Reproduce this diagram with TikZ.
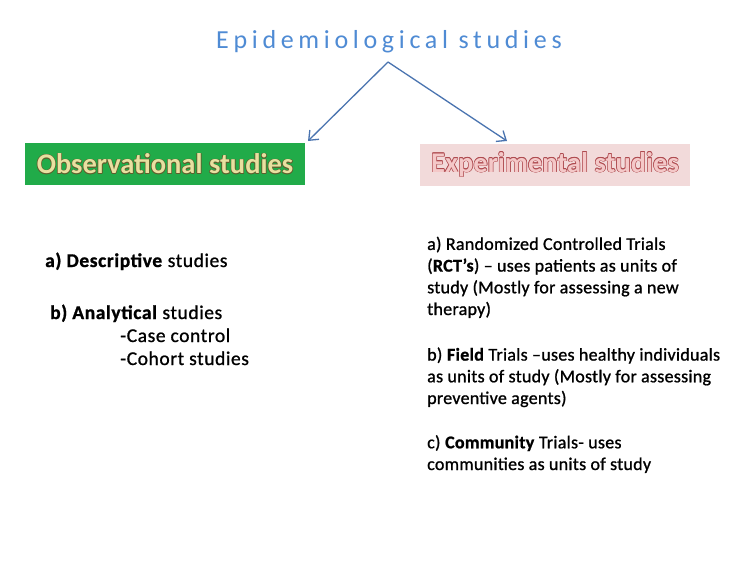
\documentclass[tikz,border=0pt]{standalone}
\usepackage{fontspec}
\setmainfont{Carlito}
\newfontfamily\spacedfont[LetterSpace=18]{Carlito}
\newfontfamily\leftfont[LetterSpace=3,FakeBold=1]{Carlito}
\newfontfamily\rightfont[LetterSpace=1.5,FakeBold=1]{Carlito}
\usetikzlibrary{arrows.meta}
\definecolor{titleblue}{RGB}{79,139,212}
\definecolor{arrowblue}{RGB}{74,116,176}
\definecolor{obsgreen}{RGB}{33,171,73}
\definecolor{obstext}{RGB}{232,224,160}
\definecolor{obsline}{RGB}{95,95,45}
\definecolor{exppink}{RGB}{242,218,218}
\definecolor{exptext}{RGB}{244,200,200}
\definecolor{expline}{RGB}{175,75,80}
% text drawn with a thin outline
\newcommand{\olcopy}[4]{\rlap{\kern#1\raisebox{#2}{\textcolor{#3}{#4}}}}
\newcommand{\outlined}[3]{\leavevmode
  \olcopy{0.6pt}{0pt}{#2}{#3}\olcopy{-0.6pt}{0pt}{#2}{#3}%
  \olcopy{0pt}{0.6pt}{#2}{#3}\olcopy{0pt}{-0.6pt}{#2}{#3}%
  \olcopy{0.45pt}{0.45pt}{#2}{#3}\olcopy{-0.45pt}{0.45pt}{#2}{#3}%
  \olcopy{0.45pt}{-0.45pt}{#2}{#3}\olcopy{-0.45pt}{-0.45pt}{#2}{#3}%
  \textcolor{#1}{#3}}
\begin{document}
\begin{tikzpicture}[x=1pt,y=-1pt]
    \useasboundingbox[fill=white] (0,0) rectangle (752,563);

    \tikzstyle{hnode} = [rectangle, inner sep = 0pt, minimum height = 42pt, font=\fontsize{28.5}{32}\selectfont\bfseries]
    \tikzstyle{lnode} = [inner sep = 0pt, anchor = base west, align = left, font=\fontsize{19.5}{23}\leftfont]
    \tikzstyle{rnode} = [inner sep = 0pt, anchor = base west, align = left, font=\fontsize{18}{21.7}\rightfont]
    \tikzstyle{harrow} = [draw=arrowblue, line width = 1.3pt, -{Straight Barb[length=8pt, width=13pt]}]

    \node[inner sep = 0pt, text=titleblue, font=\fontsize{26}{30}\spacedfont] (title) at (389,42) {Epidemiological studies};

    \node[hnode, fill=obsgreen, minimum width = 280pt] (obs) at (165,164) {\outlined{obstext}{obsline}{Observational studies}};
    \node[hnode, fill=exppink, minimum width = 270pt] (exp) at (555,164.5) {\outlined{exptext}{expline}{Experimental studies}};

    \coordinate (top) at (388,62);
    \coordinate (obsend) at (308,141);
    \coordinate (expend) at (507,141);
    \draw[harrow] (top) -- (obsend);
    \draw[harrow] (top) -- (expend);

    % left column (base = last line)
    \node[lnode] (desc) at (45,267) {\textbf{a) Descriptive} studies};
    \node[lnode] (anal) at (50,365) {\textbf{b) Analytical} studies\\
      \hspace*{70pt}-Case control\\
      \hspace*{70pt}-Cohort studies};

    % right column (base = last line)
    \node[rnode] (expa) at (427,315) {a) Randomized Controlled Trials\\
      (\textbf{RCT’s}) \textendash{} uses patients as units of\\
      study (Mostly for assessing a new\\
      therapy)};
    \node[rnode] (expb) at (427,404) {b) \textbf{Field} Trials \textendash uses healthy individuals\\
      as units of study (Mostly for assessing\\
      preventive agents)};
    \node[rnode] (expc) at (427,470) {c) \textbf{Community} Trials- uses\\
      communities as units of study};
\end{tikzpicture}
\end{document}
